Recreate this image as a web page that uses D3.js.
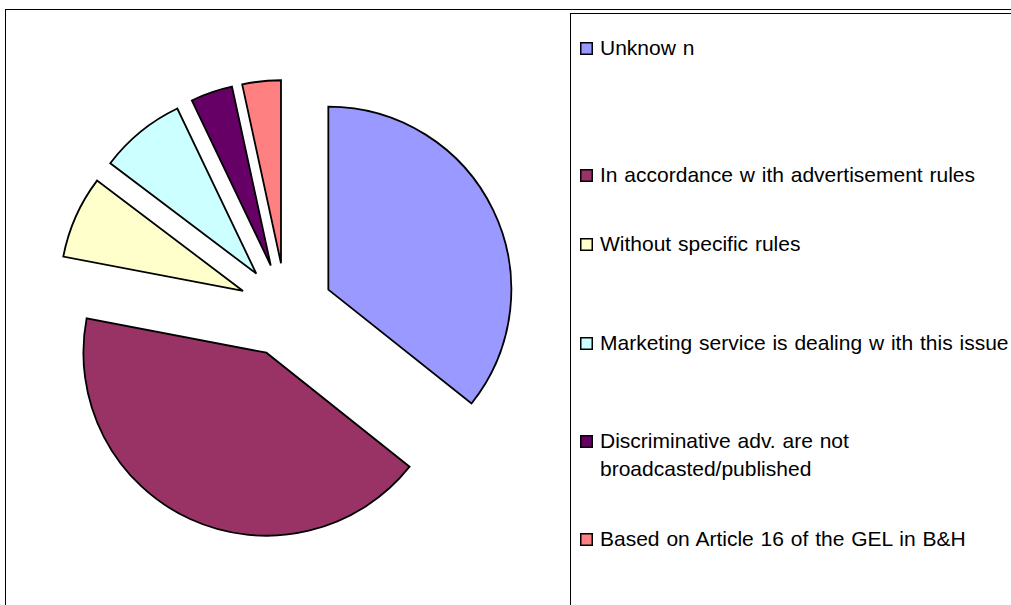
<!DOCTYPE html>
<html>
<head>
<meta charset="utf-8">
<script src="https://cdn.jsdelivr.net/npm/d3@7"></script>
<style>
  html, body { margin: 0; padding: 0; background: #fff; }
  svg { display: block; }
  text { font-family: "Liberation Sans", Arial, sans-serif; }
</style>
</head>
<body>
<svg id="chart" width="1011" height="605"></svg>
<script>
// Survey answers (share of respondents, %), clockwise from 12 o'clock
const categories = [
  "Unknow n",
  "In accordance w ith advertisement rules",
  "Without specific rules",
  "Marketing service is dealing w ith this issue",
  "Discriminative adv. are not\nbroadcasted/published",
  "Based on Article 16 of the GEL in B&H"
];
const shares = [35.7, 42.3, 7.3, 7.6, 3.7, 3.4];
const colors = ["#9999FF", "#993366", "#FFFFCC", "#CCFFFF", "#660066", "#FF8080"];

// Layout
const W = 1011, H = 605;
const cx = 286, cy = 310, radius = 183, explode = 47;
const legendX = 580;
const legendBaselines = [55, 182, 251, 350, 448, 546];

const svg = d3.select("#chart");

// Chart area frame
svg.append("rect")
  .attr("x", 5.5).attr("y", 9.5)
  .attr("width", W + 20).attr("height", H + 20)
  .attr("fill", "#fff").attr("stroke", "#000").attr("stroke-width", 1);

// Legend frame
svg.append("rect")
  .attr("x", 570.5).attr("y", 13.5)
  .attr("width", W).attr("height", H)
  .attr("fill", "#fff").attr("stroke", "#000").attr("stroke-width", 1);

// Exploded pie
const pie = d3.pie().sort(null).value(d => d);
const arc = d3.arc().innerRadius(0).outerRadius(radius);
const arcs = pie(shares);

svg.append("g")
  .attr("transform", `translate(${cx},${cy})`)
  .selectAll("path")
  .data(arcs)
  .join("path")
  .attr("transform", d => {
    const mid = (d.startAngle + d.endAngle) / 2;
    return `translate(${Math.sin(mid) * explode},${-Math.cos(mid) * explode})`;
  })
  .attr("d", arc)
  .attr("fill", (d, i) => colors[i])
  .attr("stroke", "#000")
  .attr("stroke-width", 1.8)
  .attr("stroke-linejoin", "miter");

// Legend
const items = svg.append("g").selectAll("g")
  .data(categories)
  .join("g")
  .attr("transform", (d, i) => `translate(${legendX},${legendBaselines[i]})`);

items.append("rect")
  .attr("x", 0.75).attr("y", -12.25)
  .attr("width", 11.5).attr("height", 11.5)
  .attr("fill", (d, i) => colors[i])
  .attr("stroke", "#000")
  .attr("stroke-width", 1.5);

items.append("text")
  .attr("x", 20)
  .attr("font-size", 21)
  .attr("word-spacing", 1)
  .attr("fill", "#000")
  .selectAll("tspan")
  .data(d => d.split("\n"))
  .join("tspan")
  .attr("x", 20)
  .attr("dy", (d, i) => i === 0 ? 0 : 28)
  .text(d => d);
</script>
</body>
</html>
